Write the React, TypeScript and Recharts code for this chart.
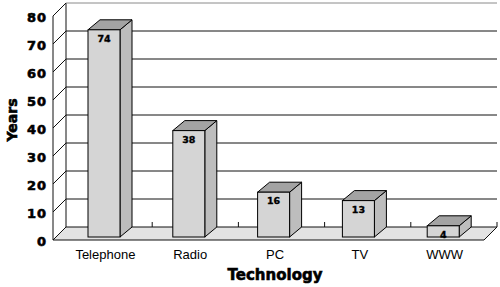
import React from 'react';
import { BarChart, Bar, XAxis, YAxis, CartesianGrid } from 'recharts';

const categories = ['Telephone', 'Radio', 'PC', 'TV', 'WWW'];
const years = [74, 38, 16, 13, 4];
const yTicks = [0, 10, 20, 30, 40, 50, 60, 70, 80];

const data = categories.map((name, i) => ({ name, years: years[i] }));

const DX = 12;
const DY = 10;
const SIDE = 13;
const BACK_EXTRA = 7;
const SHIFT = 4;

const Bar3D = (props: any) => {
  const { x, y, width, height, value } = props;
  if (x == null || y == null) return null;
  const fl = x - SHIFT;
  const fr = fl + width;
  const ft = y + DY;
  const fb = y + height + DY;
  const top = `${fl},${ft} ${fl + DX},${ft - DY} ${fr + DX},${ft - DY} ${fr},${ft}`;
  const side = `${fr},${ft} ${fr + DX},${ft - DY} ${fr + DX},${fb - DY} ${fr},${fb}`;
  return (
    <g>
      <polygon points={side} fill="#bdbdbd" stroke="#000" strokeWidth={1} strokeLinejoin="round" />
      <polygon points={top} fill="#a3a3a3" stroke="#000" strokeWidth={1} strokeLinejoin="round" />
      <rect x={fl} y={ft} width={width} height={fb - ft} fill="#d5d5d5" stroke="#000" strokeWidth={1} />
      <text
        x={fl + width / 2}
        y={ft + 8.5}
        textAnchor="middle"
        dominantBaseline="central"
        fontFamily="DejaVu Sans"
        fontWeight="bold"
        fontSize={9.5}
        stroke="#000"
        strokeWidth={0.35}
        fill="#000"
      >
        {value}
      </text>
    </g>
  );
};

const GridLine = (props: any) => {
  const { x1, y1, x2, x, y, width, height } = props;
  const backRight = x2 + BACK_EXTRA;
  const bottom = y + height;
  const isBottom = Math.abs(y1 - bottom) < 1;
  const isTop = Math.abs(y1 - y) < 1;
  const lineColor = isTop ? '#8a8a8a' : '#111';
  if (isBottom) {
    const backWidth = backRight - x;
    const ticks = [1, 2, 3, 4, 5].map((k) => x + (k * backWidth) / 5);
    return (
      <g>
        <polygon
          points={`${x},${bottom} ${backRight},${bottom} ${backRight - SIDE},${bottom + SIDE} ${x - SIDE},${bottom + SIDE}`}
          fill="#e3e3e3"
          stroke="#111"
          strokeWidth={1}
        />
        <line x1={x} y1={y} x2={x} y2={bottom} stroke="#111" strokeWidth={1} />
        <line x1={x - SIDE} y1={y + SIDE} x2={x - SIDE} y2={bottom + SIDE} stroke="#111" strokeWidth={1} />
        {ticks.map((tx, i) => (
          <line key={i} x1={tx} y1={bottom} x2={tx} y2={bottom - 5} stroke="#111" strokeWidth={1} />
        ))}
      </g>
    );
  }
  return (
    <g>
      <line x1={x1} y1={y1} x2={backRight} y2={y1} stroke={lineColor} strokeWidth={1} />
      <line x1={x1} y1={y1} x2={x1 - SIDE} y2={y1 + SIDE} stroke="#111" strokeWidth={1} />
    </g>
  );
};

const YTick = (props: any) => {
  const { x, y, payload } = props;
  return (
    <text
      x={x}
      y={y + 14}
      textAnchor="end"
      dominantBaseline="central"
      fontFamily="DejaVu Sans"
      fontWeight="bold"
      fontSize={13}
      letterSpacing={1}
      stroke="#000"
      strokeWidth={0.6}
      fill="#000"
    >
      {payload.value}
    </text>
  );
};

const XTick = (props: any) => {
  const { x, y, payload } = props;
  return (
    <text
      x={x - 3}
      y={y + 32}
      textAnchor="middle"
      fontFamily="Liberation Sans"
      fontSize={13}
      fill="#000"
    >
      {payload.value}
    </text>
  );
};

const YLabel = (props: any) => {
  const vb = props.viewBox || { x: 0, y: 0, width: 66, height: 224 };
  const cx = vb.x + 12;
  const cy = vb.y + vb.height / 2 + 5;
  return (
    <text
      x={cx}
      y={cy}
      transform={`rotate(-90, ${cx}, ${cy})`}
      textAnchor="middle"
      dominantBaseline="central"
      fontFamily="DejaVu Sans"
      fontWeight="bold"
      fontSize={14}
      stroke="#000"
      strokeWidth={0.6}
      fill="#000"
    >
      Years
    </text>
  );
};

const XLabel = (props: any) => {
  const vb = props.viewBox || { x: 66, y: 227, width: 424, height: 60 };
  return (
    <text
      x={vb.x + vb.width / 2 - 3}
      y={vb.y + 53}
      textAnchor="middle"
      fontFamily="DejaVu Sans"
      fontWeight="bold"
      fontSize={15}
      stroke="#000"
      strokeWidth={0.6}
      fill="#000"
    >
      Technology
    </text>
  );
};

export default function App() {
  return (
    <div style={{ position: 'absolute', left: 0, top: 0, background: '#fff' }}>
      <BarChart
        width={500}
        height={287}
        data={data}
        margin={{ top: 3, right: 10, bottom: 0, left: 0 }}
      >
        <CartesianGrid horizontal={(p: any) => <GridLine {...p} />} vertical={false} />
        <XAxis
          dataKey="name"
          height={60}
          axisLine={false}
          tickLine={false}
          tickSize={0}
          tickMargin={0}
          interval={0}
          tick={(p: any) => <XTick {...p} />}
          label={{ content: (p: any) => <XLabel {...p} /> }}
        />
        <YAxis
          width={66}
          domain={[0, 80]}
          ticks={yTicks}
          interval={0}
          axisLine={false}
          tickLine={false}
          tickSize={19}
          tickMargin={0}
          tick={(p: any) => <YTick {...p} />}
          label={{ content: (p: any) => <YLabel {...p} /> }}
        />
        <Bar dataKey="years" barSize={32} isAnimationActive={false} shape={(p: any) => <Bar3D {...p} />} />
      </BarChart>
    </div>
  );
}
